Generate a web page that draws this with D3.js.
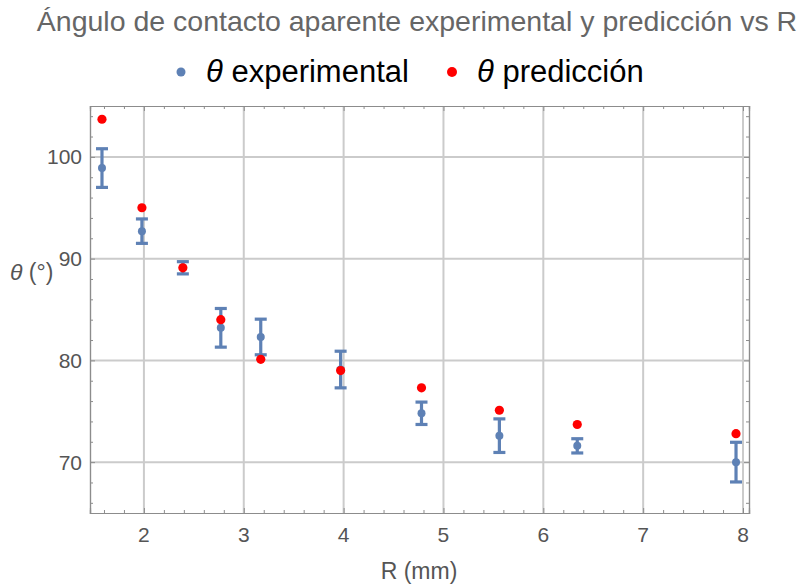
<!DOCTYPE html>
<html>
<head>
<meta charset="utf-8">
<script src="https://cdn.jsdelivr.net/npm/d3@7"></script>
<style>
  html, body { margin: 0; padding: 0; background: #fff; }
  svg { display: block; font-family: "Liberation Sans", Arial, sans-serif; }
</style>
</head>
<body>
<svg id="chart" width="805" height="588"></svg>
<script>
// Radius R (mm) of each drop
const radius = [1.58, 1.98, 2.39, 2.77, 3.17, 3.97, 4.78, 5.56, 6.34, 7.93];
// Measured apparent contact angle (degrees) and its uncertainty
const thetaExp = [98.9, 92.7, 89.1, 83.2, 82.3, 79.1, 74.8, 72.6, 71.6, 70.0];
const thetaErr = [1.9, 1.2, 0.6, 1.9, 1.75, 1.8, 1.1, 1.65, 0.7, 1.95];
// Predicted contact angle (degrees)
const thetaPred = [103.7, 95.0, 89.1, 84.0, 80.1, 79.0, 77.3, 75.1, 73.7, 72.8];

const xTicks = [2, 3, 4, 5, 6, 7, 8];
const yTicks = [70, 80, 90, 100];

const svg = d3.select("#chart");
const plot = { left: 90, right: 749, top: 106, bottom: 513 };

const x = d3.scaleLinear().domain([1.46, 8.06]).range([plot.left, plot.right]);
const y = d3.scaleLinear().domain([65, 105]).range([plot.bottom, plot.top]);

const blue = "#5e81b5";
const red = "#ff0000";

// Grid lines at major ticks
const grid = svg.append("g");
grid.selectAll(".gx").data(xTicks).join("line")
  .attr("x1", d => x(d)).attr("x2", d => x(d))
  .attr("y1", plot.top).attr("y2", plot.bottom)
  .attr("stroke", "#cbcbcb").attr("stroke-width", 2);
grid.selectAll(".gy").data(yTicks).join("line")
  .attr("x1", plot.left).attr("x2", plot.right)
  .attr("y1", d => y(d)).attr("y2", d => y(d))
  .attr("stroke", "#cbcbcb").attr("stroke-width", 2);

// Frame with inward ticks on all four sides
const xMinor = d3.range(1.6, 8.05, 0.2).filter(v => Math.abs(v - Math.round(v)) > 1e-6);
const yMinor = d3.range(66, 105, 2).filter(v => v % 10 !== 0);

function frameAxis(axis, transform, major, minor) {
  const gMaj = svg.append("g").attr("transform", transform)
    .call(axis.tickValues(major).tickSize(-5).tickFormat(""));
  const gMin = svg.append("g").attr("transform", transform)
    .call(axis.tickValues(minor).tickSize(-3).tickFormat(""));
  [gMaj, gMin].forEach(g => {
    g.selectAll(".domain").attr("stroke", "#8c8c8c").attr("stroke-width", 1.2);
    g.selectAll(".tick line").attr("stroke", "#8c8c8c").attr("stroke-width", 1);
  });
}
frameAxis(d3.axisBottom(x), `translate(0,${plot.bottom})`, xTicks, xMinor);
frameAxis(d3.axisTop(x), `translate(0,${plot.top})`, xTicks, xMinor);
frameAxis(d3.axisLeft(y), `translate(${plot.left},0)`, yTicks, yMinor);
frameAxis(d3.axisRight(y), `translate(${plot.right},0)`, yTicks, yMinor);

// Tick labels
const labelColor = "#555555";
svg.append("g").selectAll("text").data(xTicks).join("text")
  .attr("x", d => x(d)).attr("y", plot.bottom + 29)
  .attr("text-anchor", "middle").attr("font-size", 21).attr("fill", labelColor)
  .text(d => d);
svg.append("g").selectAll("text").data(yTicks).join("text")
  .attr("x", plot.left - 8).attr("y", d => y(d) + 7.5)
  .attr("text-anchor", "end").attr("font-size", 21).attr("fill", labelColor)
  .text(d => d);

// Axis titles
svg.append("text").attr("x", 419).attr("y", 579)
  .attr("text-anchor", "middle").attr("font-size", 23).attr("fill", labelColor)
  .text("R (mm)");
const yl = svg.append("text").attr("x", 10).attr("y", 280)
  .attr("font-size", 23).attr("fill", labelColor);
yl.append("tspan").attr("font-style", "italic").text("θ");
yl.append("tspan").text(" (°)");

// Title
svg.append("text").attr("x", 417).attr("y", 31)
  .attr("text-anchor", "middle").attr("font-size", 28.5).attr("fill", "#666666")
  .text("Ángulo de contacto aparente experimental y predicción vs R");

// Legend
const legend = [
  { label: "experimental", color: blue, r: 4.5, cx: 181, tx: 206 },
  { label: "predicción", color: red, r: 5, cx: 452, tx: 477 }
];
const lg = svg.append("g").selectAll("g").data(legend).join("g");
lg.append("circle").attr("cx", d => d.cx).attr("cy", 72).attr("r", d => d.r).attr("fill", d => d.color);
const lt = lg.append("text").attr("x", d => d.tx).attr("y", 82).attr("font-size", 31).attr("fill", "#000");
lt.append("tspan").attr("font-style", "italic").text("θ");
lt.append("tspan").text(d => " " + d.label);

// Experimental points with error bars
const pts = radius.map((r, i) => ({ r, v: thetaExp[i], e: thetaErr[i], p: thetaPred[i] }));
const eb = svg.append("g").attr("stroke", blue).attr("stroke-width", 3.2);
eb.selectAll(".bar").data(pts).join("line")
  .attr("x1", d => x(d.r)).attr("x2", d => x(d.r))
  .attr("y1", d => y(d.v - d.e)).attr("y2", d => y(d.v + d.e));
eb.selectAll(".capTop").data(pts).join("line")
  .attr("x1", d => x(d.r) - 6).attr("x2", d => x(d.r) + 6)
  .attr("y1", d => y(d.v + d.e)).attr("y2", d => y(d.v + d.e));
eb.selectAll(".capBot").data(pts).join("line")
  .attr("x1", d => x(d.r) - 6).attr("x2", d => x(d.r) + 6)
  .attr("y1", d => y(d.v - d.e)).attr("y2", d => y(d.v - d.e));
svg.append("g").selectAll("circle").data(pts).join("circle")
  .attr("cx", d => x(d.r)).attr("cy", d => y(d.v)).attr("r", 4).attr("fill", blue);

// Predicted points
svg.append("g").selectAll("circle").data(pts).join("circle")
  .attr("cx", d => x(d.r)).attr("cy", d => y(d.p)).attr("r", 4.6).attr("fill", red);
</script>
</body>
</html>
